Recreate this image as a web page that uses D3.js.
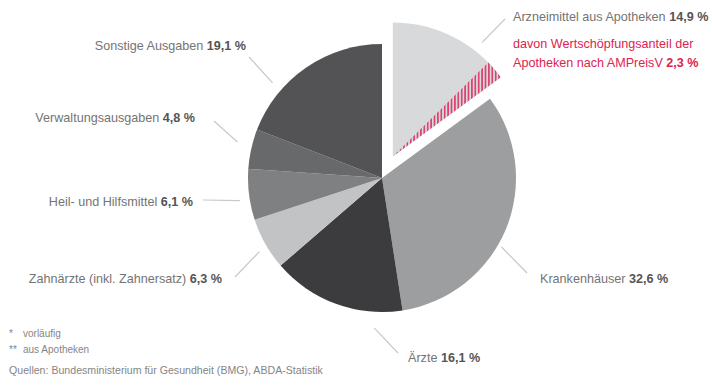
<!DOCTYPE html>
<html><head><meta charset="utf-8">
<script src="https://cdn.jsdelivr.net/npm/d3@7"></script>
<style>
html,body{margin:0;padding:0;background:#fff;}
svg{display:block;font-family:"Liberation Sans",Arial,sans-serif;}
</style></head>
<body>
<svg id="chart" width="712" height="387"></svg>
<script>
// ---- data ----
const categories = ["Arzneimittel aus Apotheken", "Krankenhäuser", "Ärzte", "Zahnärzte (inkl. Zahnersatz)", "Heil- und Hilfsmittel", "Verwaltungsausgaben", "Sonstige Ausgaben"];
const values = [14.9, 32.6, 16.1, 6.3, 6.1, 4.8, 19.1];
const valueLabels = ["14,9 %", "32,6 %", "16,1 %", "6,3 %", "6,1 %", "4,8 %", "19,1 %"];
const subShare = 2.3;
const subLabelLines = ["davon Wertschöpfungsanteil der", "Apotheken nach AMPreisV"];
const subValueLabel = "2,3 %";
const footnotes = ["*", "**"];
const footnoteTexts = ["vorläufig", "aus Apotheken"];
const sourceText = "Quellen: Bundesministerium für Gesundheit (BMG), ABDA-Statistik";

// ---- styles / layout ----
const colors = ["#d8d9db", "#9d9ea0", "#3c3c3e", "#c2c3c5", "#7f8082", "#68696b", "#535355"];
const cx = 382, cy = 178, R = 134, explode = 24;
const layout = [
  {x: 513, y: 16,  anchor: "start", la: 38,  lr: 145, ex: 505, ey: 19, fromExploded: true},
  {x: 540, y: 278, anchor: "start", la: 120, lr: 138, ex: 527, ey: 273},
  {x: 408, y: 357, anchor: "start", la: 183, lr: 150, ex: 398, ey: 353},
  {x: 222, y: 278, anchor: "end",   la: 239, lr: 143, ex: 235, ey: 277},
  {x: 193, y: 201, anchor: "end",   la: 261, lr: 144, ex: 203, ey: 200},
  {x: 195, y: 117, anchor: "end",   la: 284, lr: 149, ex: 214, ey: 121},
  {x: 246, y: 45,  anchor: "end",   la: 311, lr: 145, ex: 249, ey: 57}
];
const fs = 12.6;

const svg = d3.select("#chart");
const defs = svg.append("defs");
const pat = defs.append("pattern").attr("id", "hatch")
  .attr("patternUnits", "userSpaceOnUse").attr("width", 3.4).attr("height", 10);
pat.append("rect").attr("width", 3.4).attr("height", 10).attr("fill", "#d8d9db");
pat.append("rect").attr("x", 0).attr("width", 1.7).attr("height", 10).attr("fill", "#dc4470");

const pie = d3.pie().sort(null).value(d => d)(values);
const arc = d3.arc().innerRadius(0).outerRadius(R);

const g = svg.append("g").attr("transform", `translate(${cx},${cy})`);
const offsets = pie.map((p, i) => {
  if (i !== 0) return [0, 0];
  const m = (p.startAngle + p.endAngle) / 2;
  return [Math.sin(m) * explode, -Math.cos(m) * explode];
});

g.selectAll("path.slice").data(pie).join("path")
  .attr("class", "slice")
  .attr("d", arc)
  .attr("fill", (d, i) => colors[i])
  .attr("transform", (d, i) => `translate(${offsets[i][0]},${offsets[i][1]})`);

const total = d3.sum(values);
const p0 = pie[0];
const subAngle = subShare / total * 2 * Math.PI;
g.append("path")
  .attr("d", arc({startAngle: p0.endAngle - subAngle, endAngle: p0.endAngle}))
  .attr("fill", "url(#hatch)")
  .attr("transform", `translate(${offsets[0][0]},${offsets[0][1]})`);

layout.forEach((L, i) => {
  const a = L.la * Math.PI / 180;
  const ox = L.fromExploded ? offsets[0][0] : 0, oy = L.fromExploded ? offsets[0][1] : 0;
  const x1 = cx + ox + Math.sin(a) * L.lr, y1 = cy + oy - Math.cos(a) * L.lr;
  svg.append("line").attr("x1", x1).attr("y1", y1).attr("x2", L.ex).attr("y2", L.ey)
    .attr("stroke", "#c8c8c8").attr("stroke-width", 1.2);
});

layout.forEach((L, i) => {
  const t = svg.append("text").attr("x", L.x).attr("y", L.y + 4.5)
    .attr("text-anchor", L.anchor).attr("font-size", fs).attr("fill", "#747474");
  t.append("tspan").text(categories[i] + " ");
  t.append("tspan").attr("font-weight", "bold").attr("fill", "#555").text(valueLabels[i]);
});

const red = "#dc2450";
svg.append("text").attr("x", 513).attr("y", 43 + 4.5).attr("font-size", fs).attr("fill", red)
  .text(subLabelLines[0]);
const t2 = svg.append("text").attr("x", 513).attr("y", 62 + 4.5).attr("font-size", fs).attr("fill", red);
t2.append("tspan").text(subLabelLines[1] + " ");
t2.append("tspan").attr("font-weight", "bold").text(subValueLabel);

footnotes.forEach((f, i) => {
  svg.append("text").attr("x", 9).attr("y", 336.5 + i * 16.5).attr("font-size", 10).attr("fill", "#858585").text(f);
  svg.append("text").attr("x", 23).attr("y", 336.5 + i * 16.5).attr("font-size", 10).attr("fill", "#858585").text(footnoteTexts[i]);
});
svg.append("text").attr("x", 9).attr("y", 374).attr("font-size", 10.6).attr("fill", "#858585").text(sourceText);
</script>
</body></html>
